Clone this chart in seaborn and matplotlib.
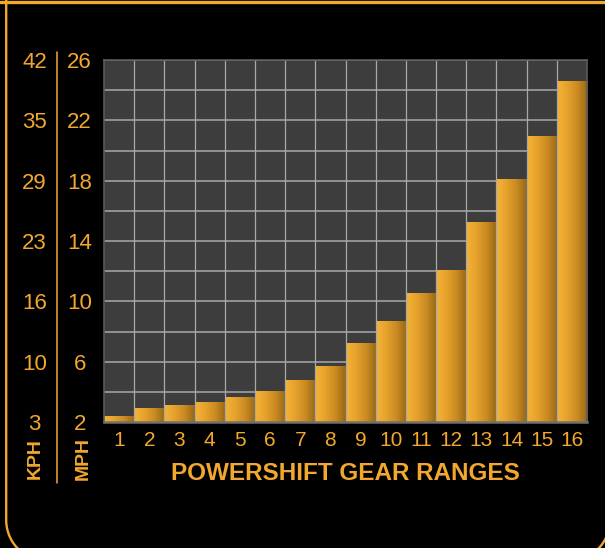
import numpy as np
import seaborn as sns
import matplotlib.pyplot as plt
from matplotlib.colors import LinearSegmentedColormap
from matplotlib.ticker import MultipleLocator
import matplotlib.transforms as mtransforms

# --- data ---
gears = [str(g) for g in range(1, 17)]
mph = [2.38, 2.91, 3.11, 3.31, 3.65, 4.05, 4.78, 5.65,
       7.18, 8.65, 10.5, 12.05, 15.25, 18.1, 20.9, 24.55]
mph_ticks = [2, 6, 10, 14, 18, 22, 26]
kph_labels = ["3", "10", "16", "23", "29", "35", "42"]

ORANGE = "#F2A82F"
GRID = "#A9A9A9"
PANEL = "#3D3D3D"

sns.set_theme(style="dark")
plt.rcParams["font.family"] = ["Liberation Sans", "DejaVu Sans"]

fig = plt.figure(figsize=(6.05, 5.48), dpi=100, facecolor="black")

# overlay in pixel coords for the frame and the separator line
bg = fig.add_axes([0, 0, 1, 1], zorder=-1)
bg.set_xlim(0, 605)
bg.set_ylim(548, 0)
bg.axis("off")

# rounded frame: left edge, bottom corners, right edge (top corners off-canvas)
r, xl, xr, yb = 41, 6.2, 610, 561
t1 = np.radians(np.linspace(180, 90, 40))
t2 = np.radians(np.linspace(90, 0, 40))
fx = np.concatenate([[xl], xl + r + r * np.cos(t1), xr - r + r * np.cos(t2), [xr]])
fy = np.concatenate([[-10], yb - r + r * np.sin(t1), yb - r + r * np.sin(t2), [-10]])
bg.plot(fx, fy, color=ORANGE, linewidth=1.7)
bg.plot([0, 605], [1.7, 1.7], color=ORANGE, linewidth=2.4)
bg.plot([57, 57], [52, 483], color=ORANGE, linewidth=1.1)

ax = fig.add_axes([104 / 605, 126 / 548, 483 / 605, 362 / 548])
ax.set_facecolor(PANEL)

sns.barplot(x=gears, y=mph, ax=ax, width=1.0, color=ORANGE,
            saturation=1, linewidth=0, zorder=2)

ax.set_xlim(-0.5, len(gears) - 0.5)
ax.set_ylim(2, 26)
ymin = ax.get_ylim()[0]

# --- gradient fill on each bar ---
grad_cmap = LinearSegmentedColormap.from_list(
    "bar", ["#F5B437", "#E6A22C", "#C98A22", "#946616"])
grad = np.linspace(0, 1, 256).reshape(1, -1)
for p in ax.patches:
    x0, y0 = p.get_x(), max(p.get_y(), ymin)
    w, top = p.get_width(), p.get_y() + p.get_height()
    ax.imshow(grad, cmap=grad_cmap, aspect="auto",
              extent=[x0, x0 + w, y0, top], zorder=2.5,
              interpolation="bicubic")

ax.set_xlim(-0.5, len(gears) - 0.5)
ax.set_ylim(2, 26)

# horizontal grid behind bars, vertical dividers on top
ax.set_yticks(mph_ticks)
ax.yaxis.set_minor_locator(MultipleLocator(2))
ax.grid(which="both", axis="y", color=GRID, linewidth=1.1)
ax.grid(which="both", axis="x", visible=False)
ax.set_axisbelow(True)
ax.vlines(np.arange(len(gears) - 1) + 0.5, 2, 26, color=GRID,
          linewidth=0.9, zorder=3)

for side, sp in ax.spines.items():
    sp.set_visible(True)
    sp.set_color("#5A5A5A")
    sp.set_linewidth(1.2)
    sp.set_zorder(4)
ax.spines["bottom"].set_color("#707070")
ax.spines["bottom"].set_linewidth(1.8)

ax.tick_params(axis="both", which="both", length=0, colors=ORANGE)
ax.tick_params(axis="y", labelsize=16, pad=17.5)
ax.tick_params(axis="x", labelsize=15, pad=6.5)
for lab in ax.get_yticklabels():
    lab.set_horizontalalignment("center")
    lab.set_verticalalignment("center_baseline")
ax.set_xlabel("")
ax.set_ylabel("")

# KPH column of labels, aligned to the MPH ticks
kph_tr = mtransforms.blended_transform_factory(fig.transFigure, ax.transData)
for v, lab in zip(mph_ticks, kph_labels):
    ax.text(34.5 / 605, v, lab, transform=kph_tr, ha="center",
            va="center_baseline", color=ORANGE, fontsize=16, clip_on=False)

fig.text(35 / 605, 1 - 459 / 548, "KPH", rotation=90, ha="center",
         va="center", color=ORANGE, fontsize=14, fontweight="bold")
fig.text(83 / 605, 1 - 459 / 548, "MPH", rotation=90, ha="center",
         va="center", color=ORANGE, fontsize=14, fontweight="bold")

fig.text(345.5 / 605, 1 - 473 / 548, "POWERSHIFT GEAR RANGES", ha="center",
         va="center", color=ORANGE, fontsize=17.5, fontweight="bold")

fig.savefig("out.png", dpi=100, facecolor="black")
